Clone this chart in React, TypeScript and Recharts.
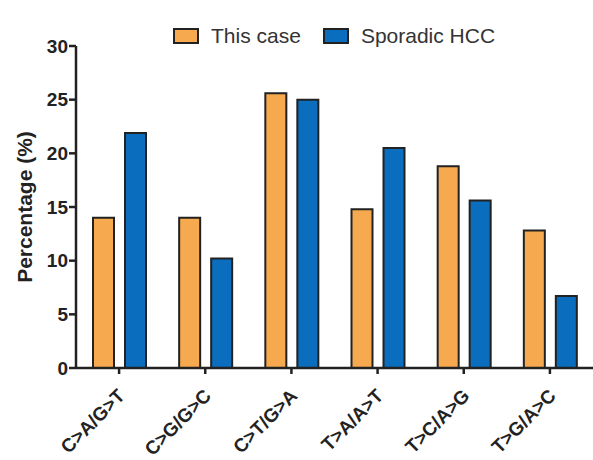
import React from "react";
import { Bar, BarChart, Label, Legend, XAxis, YAxis } from "recharts";

const categories = ["C>A/G>T", "C>G/G>C", "C>T/G>A", "T>A/A>T", "T>C/A>G", "T>G/A>C"];
const thisCase = [14.0, 14.0, 25.6, 14.8, 18.8, 12.8];
const sporadicHcc = [21.9, 10.2, 25.0, 20.5, 15.6, 6.7];
const yTicks = [0, 5, 10, 15, 20, 25, 30];

const data = categories.map((name, i) => ({
  name,
  thisCase: thisCase[i],
  sporadic: sporadicHcc[i],
}));

const ORANGE = "#F7A94F";
const BLUE = "#0A6DBD";
const INK = "#222222";
const font = "'Liberation Sans', Arial, sans-serif";

function XTick(props: any) {
  const { x, y, payload } = props;
  const tx = x + 7;
  const ty = y + 21;
  return (
    <text
      x={tx}
      y={ty}
      transform={`rotate(-45, ${tx}, ${ty})`}
      textAnchor="end"
      fontFamily={font}
      fontWeight="bold"
      fontSize={19}
      fill={INK}
    >
      {payload.value}
    </text>
  );
}

function LegendBox() {
  const items = [
    { label: "This case", color: ORANGE },
    { label: "Sporadic HCC", color: BLUE },
  ];
  return (
    <div style={{ display: "flex", alignItems: "center", fontFamily: font, fontSize: 21, color: "#333" }}>
      {items.map((it) => (
        <div key={it.label} style={{ display: "flex", alignItems: "center", marginRight: 22 }}>
          <span
            style={{
              display: "inline-block",
              width: 22,
              height: 12,
              background: it.color,
              border: `2px solid ${INK}`,
              marginRight: 12,
            }}
          />
          <span>{it.label}</span>
        </div>
      ))}
    </div>
  );
}

export default function App() {
  return (
    <div style={{ position: "absolute", left: 0, top: 0, width: 593, height: 460, background: "#fff" }}>
      <BarChart
        width={593}
        height={460}
        data={data}
        margin={{ top: 22, right: 0, bottom: 0, left: 0 }}
        barCategoryGap="19%"
        barGap={11}
      >
        <XAxis
          dataKey="name"
          height={92}
          tick={<XTick />}
          tickSize={6}
          tickLine={{ stroke: INK, strokeWidth: 2.5 }}
          axisLine={{ stroke: INK, strokeWidth: 2.5 }}
          interval={0}
        />
        <YAxis
          width={76}
          domain={[0, 30]}
          ticks={yTicks}
          tickSize={7}
          tickLine={{ stroke: INK, strokeWidth: 2.5 }}
          axisLine={{ stroke: INK, strokeWidth: 2.5 }}
          tick={{ fill: INK, fontSize: 19, fontWeight: "bold", fontFamily: font }}
          tickMargin={1}
        >
          <Label
            content={({ viewBox }: any) => {
              const cy = viewBox.y + viewBox.height / 2;
              return (
                <text
                  x={24}
                  y={cy}
                  transform={`rotate(-90, 24, ${cy})`}
                  textAnchor="middle"
                  dominantBaseline="central"
                  fontFamily={font}
                  fontWeight="bold"
                  fontSize={21}
                  fill={INK}
                >
                  Percentage (%)
                </text>
              );
            }}
          />
        </YAxis>
        <Legend
          verticalAlign="top"
          content={<LegendBox />}
          wrapperStyle={{ top: 24, left: 173, width: "auto" }}
        />
        <Bar dataKey="thisCase" name="This case" fill={ORANGE} stroke={INK} strokeWidth={2} barSize={21} isAnimationActive={false} />
        <Bar dataKey="sporadic" name="Sporadic HCC" fill={BLUE} stroke={INK} strokeWidth={2} barSize={21} isAnimationActive={false} />
      </BarChart>
    </div>
  );
}
